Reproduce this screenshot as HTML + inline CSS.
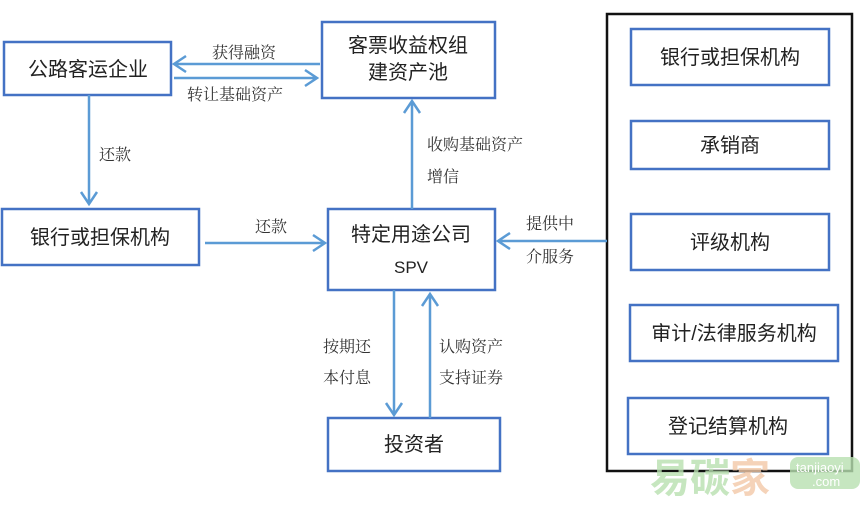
<!DOCTYPE html>
<html><head><meta charset="utf-8"><style>
html,body{margin:0;padding:0;background:#fff;}
svg{display:block;}
.b{fill:#fff;stroke:#4472c4;stroke-width:2.5;}
.t{font-family:"Liberation Sans","Noto Sans CJK SC",sans-serif;font-size:20px;fill:#222;text-anchor:middle;}
.l{font-family:"Liberation Serif","Noto Serif CJK SC",serif;font-size:16px;fill:#333;}
.a{stroke:#5b9bd5;stroke-width:2.5;fill:none;}
</style></head><body>
<svg width="866" height="505" viewBox="0 0 866 505" xmlns="http://www.w3.org/2000/svg">
<!-- right big box -->
<rect x="607" y="14" width="245" height="457" fill="#fff" stroke="#111" stroke-width="2.5"/>
<rect class="b" x="631" y="29" width="198" height="56"/>
<text class="t" x="730" y="64">银行或担保机构</text>
<rect class="b" x="631" y="121" width="198" height="48"/>
<text class="t" x="730" y="152">承销商</text>
<rect class="b" x="631" y="214" width="198" height="56"/>
<text class="t" x="730" y="249">评级机构</text>
<rect class="b" x="630" y="305" width="208" height="56"/>
<text class="t" x="734" y="340">审计/法律服务机构</text>
<rect class="b" x="628" y="398" width="200" height="56"/>
<text class="t" x="728" y="433">登记结算机构</text>

<!-- left boxes -->
<rect class="b" x="4" y="42" width="167" height="53"/>
<text class="t" x="88" y="76">公路客运企业</text>
<rect class="b" x="322" y="22" width="173" height="76"/>
<text class="t" x="408" y="52">客票收益权组</text>
<text class="t" x="408" y="79">建资产池</text>
<rect class="b" x="2" y="209" width="197" height="56"/>
<text class="t" x="100" y="244">银行或担保机构</text>
<rect class="b" x="328" y="209" width="167" height="81"/>
<text class="t" x="411" y="241">特定用途公司</text>
<text class="t" x="411" y="273" style="font-size:17px">SPV</text>
<rect class="b" x="328" y="418" width="172" height="53"/>
<text class="t" x="414" y="451">投资者</text>

<!-- arrows -->
<path class="a" d="M320 64 H174 M186 56 L174 64 L186 72"/>
<path class="a" d="M174 78 H317 M305 70 L317 78 L305 86"/>
<text class="l" x="212" y="58">获得融资</text>
<text class="l" x="187" y="100">转让基础资产</text>
<path class="a" d="M89 95 V204 M81 192 L89 204 L97 192"/>
<text class="l" x="99" y="160">还款</text>
<path class="a" d="M205 243 H325 M313 235 L325 243 L313 251"/>
<text class="l" x="255" y="232">还款</text>
<path class="a" d="M412 209 V101 M404 113 L412 101 L420 113"/>
<text class="l" x="427" y="150">收购基础资产</text>
<text class="l" x="427" y="182">增信</text>
<path class="a" d="M607 241 H498 M510 233 L498 241 L510 249"/>
<text class="l" x="526" y="229">提供中</text>
<text class="l" x="526" y="262">介服务</text>
<path class="a" d="M394 290 V415 M386 403 L394 415 L402 403"/>
<text class="l" x="323" y="352">按期还</text>
<text class="l" x="323" y="383">本付息</text>
<path class="a" d="M430 418 V294 M422 306 L430 294 L438 306"/>
<text class="l" x="439" y="352">认购资产</text>
<text class="l" x="439" y="383">支持证券</text>

<!-- watermark -->
<text x="650" y="492" style="font-family:'Noto Sans CJK SC',sans-serif;font-size:40px;font-weight:bold;fill:#b8e0b0;opacity:.8">易碳</text>
<text x="730" y="492" style="font-family:'Noto Sans CJK SC',sans-serif;font-size:40px;font-weight:bold;fill:#f3c9a8;opacity:.8">家</text>
<rect x="790" y="457" width="70" height="32" rx="8" fill="#b8e0b0" opacity=".8"/>
<text x="796" y="472" style="font-family:'Liberation Sans',sans-serif;font-size:13px;fill:#fff">tanjiaoyi</text>
<text x="812" y="486" style="font-family:'Liberation Sans',sans-serif;font-size:13px;fill:#fff">.com</text>
</svg>
</body></html>
